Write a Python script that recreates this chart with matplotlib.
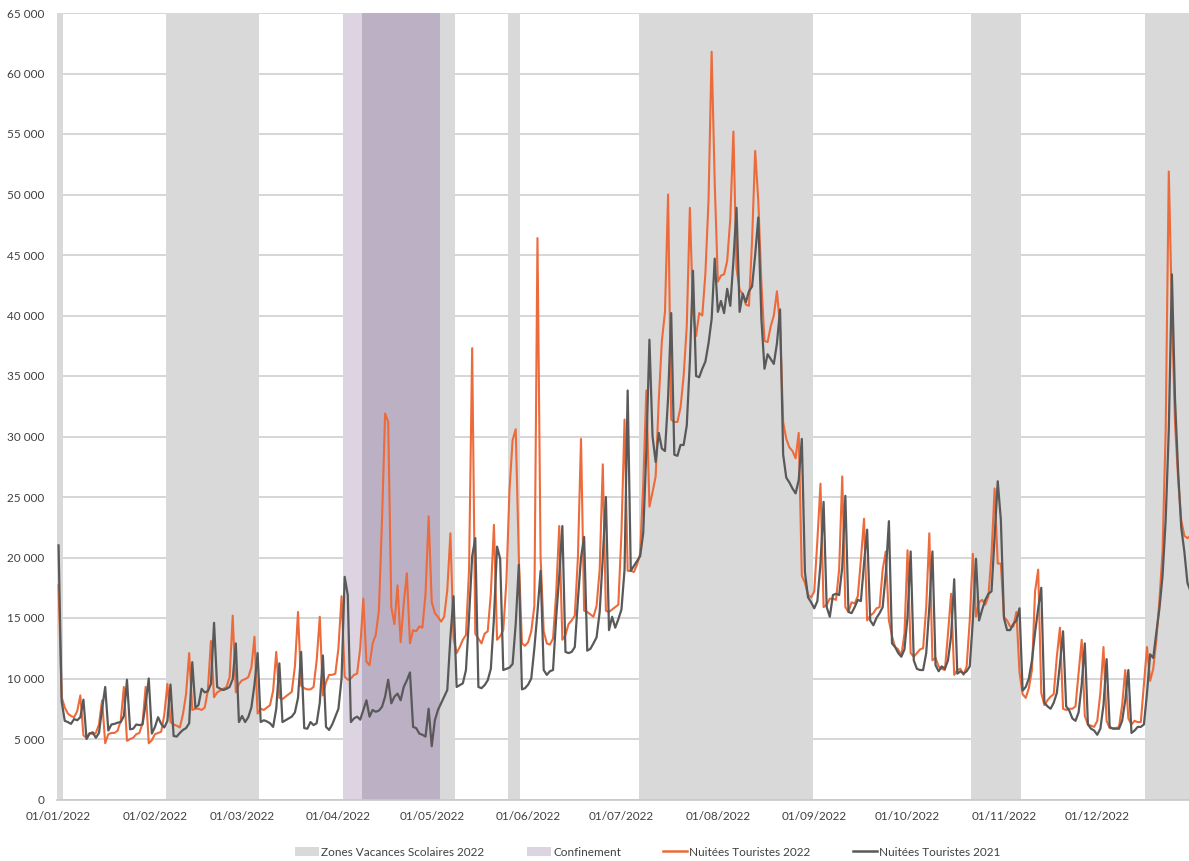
import pandas as pd
from matplotlib import pyplot as plt
from matplotlib.lines import Line2D
from matplotlib.patches import Patch
from matplotlib.ticker import FuncFormatter, MultipleLocator

plt.rcParams["font.family"] = ["Lato", "DejaVu Sans"]

dates = pd.date_range("2022-01-01", "2022-12-31", freq="D")

# nuitées touristes, une ligne = une semaine (samedi -> vendredi)
nuitees_2022 = [
    17700, 8450, 7600, 7100, 6900, 6800, 7300,
    8600, 5300, 5100, 5500, 5400, 5500, 6200,
    8200, 4650, 5400, 5500, 5500, 5700, 6500,
    9300, 4850, 5000, 5100, 5400, 5500, 6300,
    9300, 4650, 4900, 5400, 5500, 5600, 7000,
    9550, 6400, 6200, 6100, 5950, 7050, 8700,
    12100, 7400, 7500, 7500, 7400, 7600, 9000,
    13100, 8450, 8850, 9000, 9150, 9300, 10100,
    15200, 8850, 9550, 9850, 9950, 10100, 10900,
    13450, 7100, 7500, 7400, 7600, 7800, 9000,
    12200, 8400, 8300, 8500, 8700, 8900, 11000,
    15500, 9400, 9200, 9100, 9100, 9300, 11500,
    15100, 8600, 9700, 10300, 10300, 10400, 12500,
    16800, 10150, 9900, 10000, 10300, 10400, 12500,
    16600, 11400, 11100, 12900, 13600, 15600, 23000,
    31900, 31200, 15900, 14500, 17700, 13000, 16200,
    18700, 12900, 14000, 13900, 14300, 14200, 17000,
    23400, 16300, 15400, 15100, 14700, 15100, 17300,
    22000, 13300, 12100, 12600, 13200, 13600, 19000,
    37300, 13700, 13300, 12900, 13700, 13900, 17000,
    22700, 13200, 13500, 14000, 18000, 25600, 29700,
    30600, 20000, 12900, 12700, 13000, 13900, 16000,
    46400, 20000, 13900, 12900, 12800, 13300, 17000,
    22600, 13200, 13600, 14500, 14800, 15200, 20000,
    29800, 15600, 15500, 15300, 15100, 16000, 19000,
    27700, 15600, 15500, 15700, 15900, 16100, 22000,
    31400, 18900, 18900, 18800, 19400, 20300, 26000,
    33800, 24200, 25400, 26700, 33000, 37900, 40300,
    50000, 31400, 31200, 31200, 32400, 35000, 39100,
    48900, 40300, 38300, 40200, 40000, 43500, 49500,
    61800, 50900, 42800, 43300, 43400, 44500, 48000,
    55200, 43900, 42100, 41800, 40900, 40800, 46200,
    53600, 49500, 42700, 37900, 37800, 39100, 40000,
    42000, 39100, 31200, 29800, 29100, 28800, 28200,
    30300, 18500, 17900, 16900, 16700, 17200, 21400,
    26100, 15900, 16100, 16600, 16600, 16500, 19000,
    26700, 15900, 15500, 16300, 16200, 16800, 19800,
    23200, 14800, 15200, 15400, 15800, 15900, 19000,
    20500, 14800, 13500, 12600, 12400, 11900, 13700,
    20600, 12100, 11800, 12100, 12400, 12500, 15900,
    22000, 11500, 11700, 11000, 10800, 10700, 13700,
    17000, 10300, 10700, 10800, 10300, 11000, 14800,
    20300, 15100, 16300, 16500, 16100, 16800, 20300,
    25700, 19500, 19500, 15100, 14800, 14300, 14300,
    15500, 10500, 8700, 8400, 9200, 10700, 17200,
    19000, 8800, 7800, 8200, 8500, 8700, 11800,
    14200, 7500, 7400, 7500, 7500, 7700, 10500,
    13200, 6900, 6200, 6100, 6000, 6500, 8800,
    12600, 6500, 5900, 5900, 5900, 6000, 7800,
    10700, 6700, 6200, 6500, 6400, 6400, 9500,
    12600, 9800, 10800, 13200, 16500, 20500, 30500,
    51900, 40400, 31100, 26500, 23100, 21800, 21600,
    21800,
]

nuitees_2021 = [
    21000, 8100, 6500, 6400, 6250, 6650, 6550,
    6800, 8250, 5000, 5450, 5550, 5100, 5500,
    7500, 9300, 5700, 6200, 6250, 6350, 6400,
    6900, 9900, 5800, 5850, 6200, 6150, 6200,
    7900, 10000, 5450, 6000, 6800, 6250, 5950,
    6500, 9500, 5250, 5200, 5500, 5750, 5900,
    6300, 11350, 7600, 7800, 9150, 8850, 8950,
    9550, 14600, 9300, 9150, 9050, 9150, 9300,
    9950, 12900, 6400, 6900, 6400, 6800, 7600,
    9500, 12100, 6400, 6550, 6450, 6300, 6000,
    7500, 11250, 6400, 6550, 6700, 6850, 7200,
    8400, 12200, 5900, 5850, 6400, 6150, 6300,
    8000, 11900, 6000, 5750, 6200, 6850, 7500,
    10000, 18400, 16900, 6400, 6700, 6850, 6600,
    7400, 8200, 6850, 7400, 7250, 7350, 7650,
    8500, 9900, 7950, 8500, 8750, 8200, 9300,
    9850, 10500, 6000, 5900, 5450, 5350, 5200,
    7500, 4400, 6550, 7400, 7950, 8500, 9050,
    13400, 16800, 9300, 9450, 9600, 10700, 15100,
    20100, 21600, 9300, 9200, 9450, 9850, 10800,
    15000, 20900, 19900, 10700, 10800, 10900, 11200,
    14500, 19400, 9100, 9200, 9500, 10000, 12500,
    15500, 18900, 10700, 10300, 10600, 10700, 15000,
    18500, 22600, 12200, 12100, 12200, 12600, 16500,
    20000, 21700, 12300, 12450, 12900, 13400, 15500,
    20000, 25000, 14000, 15100, 14200, 14900, 15700,
    19000, 33800, 18900, 19300, 19700, 20100, 22000,
    28800, 38000, 30000, 27900, 30300, 29000, 28800,
    33200, 40200, 28500, 28400, 29300, 29300, 30900,
    36200, 43700, 35000, 34900, 35600, 36200, 37700,
    39700, 44700, 40300, 41200, 40200, 42200, 40800,
    44500, 48900, 40300, 41800, 41100, 42000, 42400,
    45000, 48100, 39700, 35600, 36800, 36400, 36000,
    37700, 40500, 28500, 26600, 26200, 25700, 25300,
    26400, 29800, 18800, 16700, 16300, 15800, 16400,
    19500, 24600, 15900, 15100, 16900, 17000, 16900,
    19200, 25100, 15500, 15400, 15900, 16500, 16400,
    19500, 22300, 14800, 14400, 15000, 15400, 15900,
    18700, 23000, 12900, 12600, 12100, 11800, 12400,
    15100, 20500, 11500, 10800, 10700, 10700, 12100,
    15900, 20500, 11100, 10600, 11000, 10800, 11500,
    13500, 18200, 10400, 10600, 10400, 10600, 11000,
    14800, 19900, 14800, 15700, 16500, 17000, 17200,
    21700, 26300, 23100, 15000, 14000, 14000, 14500,
    14800, 15800, 9000, 9300, 10000, 11500, 13800,
    15800, 17500, 8000, 7700, 7500, 8000, 8800,
    11200, 13900, 7700, 7350, 6700, 6500, 7200,
    9500, 12900, 6200, 5850, 5700, 5350, 5850,
    7800, 11600, 6000, 5850, 5850, 5850, 6500,
    8200, 10700, 5500, 5700, 6000, 6000, 6200,
    8800, 12000, 11700, 13800, 15800, 18500, 23100,
    30500, 43400, 33100, 27100, 22500, 20500, 17900,
    17200,
]

# periodes (premier et dernier jour inclus)
vacances = [
    ("2022-01-01", "2022-01-02"),
    ("2022-02-05", "2022-03-06"),
    ("2022-04-09", "2022-05-08"),
    ("2022-05-26", "2022-05-29"),
    ("2022-07-07", "2022-08-31"),
    ("2022-10-22", "2022-11-06"),
    ("2022-12-17", "2022-12-31"),
]
confinement = [("2022-04-03", "2022-05-03")]

c_vac = "#d9d9d9"
c_conf = "#ddd4e1"
c_both = "#bcb1c4"
c_2022 = "#ed6a3a"
c_2021 = "#595959"


def day_idx(s):
    return (pd.Timestamp(s) - dates[0]).days


x = list(range(len(dates)))

fig = plt.figure(figsize=(11.89, 8.61), dpi=100)
ax = fig.add_axes([57 / 1189, 61.5 / 861, 1 - 57 / 1189, 786.5 / 861])

for a, b in vacances:
    ax.axvspan(day_idx(a) - 0.5, day_idx(b) + 0.5, color=c_vac, lw=0, zorder=1)
for a, b in confinement:
    ca, cb = day_idx(a), day_idx(b)
    ax.axvspan(ca - 0.5, cb + 0.5, color=c_conf, lw=0, zorder=1)
    # recouvrement vacances / confinement
    for va, vb in vacances:
        lo, hi = max(ca, day_idx(va)), min(cb, day_idx(vb))
        if lo <= hi:
            ax.axvspan(lo - 0.5, hi + 0.5, color=c_both, lw=0, zorder=1.5)

ax.plot(x, nuitees_2022, color=c_2022, lw=1.5, zorder=3)
ax.plot(x, nuitees_2021, color=c_2021, lw=1.6, zorder=4)

ax.set_ylim(0, 65000)
ax.set_xlim(-0.5, 363.5)
ax.yaxis.set_major_locator(MultipleLocator(5000))
ax.yaxis.set_major_formatter(FuncFormatter(lambda v, p: f"{int(v):,}".replace(",", " ")))
ax.grid(axis="y", color="#d0d0d0", lw=1.2, zorder=0)
ax.set_axisbelow(True)

month_pos = [i for i, d in enumerate(dates) if d.day == 1]
ax.set_xticks(month_pos)
ax.set_xticklabels([dates[i].strftime("%d/%m/%Y") for i in month_pos])

ax.tick_params(axis="both", length=0, labelsize=8.5, colors="#404040")
ax.tick_params(axis="y", pad=9)
ax.tick_params(axis="x", pad=8)

for s in ["top", "right", "left"]:
    ax.spines[s].set_visible(False)
ax.spines["bottom"].set_color("#c8c8c8")
ax.spines["bottom"].set_linewidth(1.2)
ax.spines["bottom"].set_zorder(5)

handles = [
    Patch(facecolor=c_vac, edgecolor="none"),
    Patch(facecolor=c_conf, edgecolor="none"),
    Line2D([], [], color=c_2022, lw=1.8),
    Line2D([], [], color=c_2021, lw=1.8),
]
labels = ["Zones Vacances Scolaires 2022", "Confinement",
          "Nuitées Touristes 2022", "Nuitées Touristes 2021"]
fig.legend(handles, labels, loc="center", bbox_to_anchor=(0.545, 9 / 861), ncol=4,
           frameon=False, fontsize=8.5, handlelength=2.0, handleheight=0.7,
           handletextpad=0.2, columnspacing=3.6, labelcolor="#404040")

fig.savefig("out.png", dpi=100)
